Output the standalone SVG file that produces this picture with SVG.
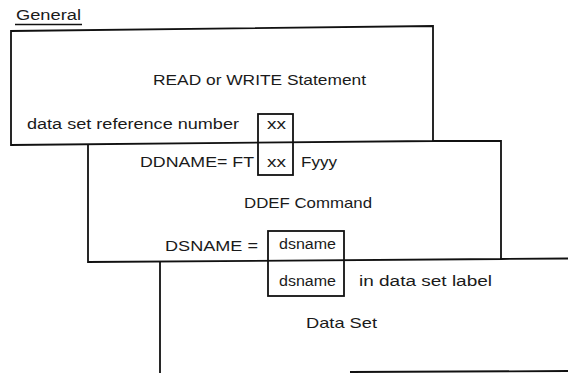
<svg xmlns="http://www.w3.org/2000/svg" width="568" height="373" viewBox="0 0 568 373">
  <style>
    .frame { fill: none; stroke: #111; stroke-width: 1.8; stroke-linejoin: miter; }
    .field { fill: none; stroke: #111; stroke-width: 1.8; }
    text { font-family: "Liberation Sans", Arial, sans-serif; fill: #1a1a1a; }
    .big { font-size: 15px; }
    .small { font-size: 14px; }
  </style>
  <rect width="568" height="373" fill="#fff"/>

  <!-- heading -->
  <g id="heading">
    <text class="small" x="16" y="20" textLength="65" lengthAdjust="spacingAndGlyphs">General</text>
    <line x1="15" y1="24.5" x2="82" y2="24.5" stroke="#111" stroke-width="1.3"/>
  </g>

  <!-- READ or WRITE statement -->
  <g id="statement">
    <path class="frame" d="M11,31 L433,26 L433,141 L11,145 Z"/>
    <text class="big" x="153" y="85" textLength="213" lengthAdjust="spacingAndGlyphs">READ or WRITE Statement</text>
    <text class="small" x="27" y="129" textLength="212" lengthAdjust="spacingAndGlyphs">data set reference number</text>
  </g>

  <!-- DDEF command -->
  <g id="ddef">
    <path class="frame" d="M88,145 L88,262 L501,259 L501,141 L433,141"/>
    <text class="big" x="140" y="167" textLength="114" lengthAdjust="spacingAndGlyphs">DDNAME= FT</text>
    <text class="big" x="301" y="167" textLength="36" lengthAdjust="spacingAndGlyphs">Fyyy</text>
    <text class="big" x="244" y="208" textLength="128" lengthAdjust="spacingAndGlyphs">DDEF Command</text>
    <text class="big" x="165" y="251" textLength="93" lengthAdjust="spacingAndGlyphs">DSNAME =</text>
  </g>

  <!-- data set -->
  <g id="dataset">
    <path class="frame" d="M160,262 L160,373 M501,259 L568,258.5 M350,372 L568,371"/>
    <text class="small" x="359" y="286" textLength="133" lengthAdjust="spacingAndGlyphs">in data set label</text>
    <text class="big" x="306" y="328" textLength="71" lengthAdjust="spacingAndGlyphs">Data Set</text>
  </g>

  <!-- reference number field shared by statement and DDNAME -->
  <g id="xx-field">
    <rect class="field" x="258" y="114" width="35" height="61"/>
    <text class="small" x="267" y="129" textLength="19" lengthAdjust="spacingAndGlyphs">xx</text>
    <text class="small" x="267" y="167" textLength="19" lengthAdjust="spacingAndGlyphs">xx</text>
  </g>

  <!-- dsname field shared by DDEF and data set label -->
  <g id="dsname-field">
    <rect class="field" x="268" y="231" width="76" height="65"/>
    <text class="small" x="279" y="249" textLength="57" lengthAdjust="spacingAndGlyphs">dsname</text>
    <text class="small" x="279" y="286" textLength="57" lengthAdjust="spacingAndGlyphs">dsname</text>
  </g>
</svg>
